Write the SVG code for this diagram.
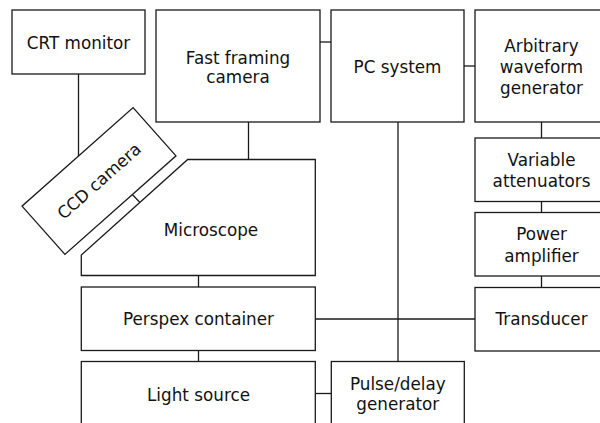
<svg xmlns="http://www.w3.org/2000/svg" width="600" height="423" viewBox="0 0 600 423">
<style>
.box{fill:#fff;stroke:#1a1a1a;stroke-width:1.3}
.ln{fill:none;stroke:#1a1a1a;stroke-width:1.3}
text{font-family:"DejaVu Sans","Liberation Sans",sans-serif;font-size:16.8px;fill:#111;text-anchor:middle}
</style>
<rect width="600" height="423" fill="#fff"/>
<g id="connectors">
<line class="ln" x1="78.5" y1="74" x2="78.5" y2="157"/>
<line class="ln" x1="320" y1="42" x2="331" y2="42"/>
<line class="ln" x1="464" y1="66" x2="475" y2="66"/>
<line class="ln" x1="248.5" y1="122" x2="248.5" y2="159.5"/>
<line class="ln" x1="131.8" y1="194" x2="139.5" y2="202"/>
<line class="ln" x1="198.5" y1="275.5" x2="198.5" y2="287"/>
<line class="ln" x1="198.5" y1="350.5" x2="198.5" y2="361.5"/>
<line class="ln" x1="315" y1="319" x2="475" y2="319"/>
<line class="ln" x1="398" y1="122" x2="398" y2="361.5"/>
<line class="ln" x1="315" y1="393.5" x2="331" y2="393.5"/>
<line class="ln" x1="541.5" y1="122" x2="541.5" y2="138"/>
<line class="ln" x1="541.5" y1="201.5" x2="541.5" y2="212.5"/>
<line class="ln" x1="541.5" y1="276" x2="541.5" y2="287.5"/>
</g>
<g id="crt"><rect class="box" x="12" y="10" width="133" height="64"/><text x="78.5" y="49">CRT monitor</text></g>
<g id="fastcam"><rect class="box" x="156" y="10" width="164" height="112"/><text x="238" y="63.5">Fast framing</text><text x="238" y="83">camera</text></g>
<g id="pc"><rect class="box" x="331" y="10" width="133" height="112"/><text x="397.5" y="73">PC system</text></g>
<g id="awg"><rect class="box" x="475" y="10" width="133" height="112"/><text x="541.5" y="51.7">Arbitrary</text><text x="541.5" y="73">waveform</text><text x="541.5" y="94.3">generator</text></g>
<g id="ccd" transform="translate(99 181) rotate(-41.6)"><rect class="box" x="-74.25" y="-32.3" width="148.5" height="64.6"/><text x="0" y="6">CCD camera</text></g>
<g id="microscope"><polygon class="box" points="187.7,159.5 315.3,159.5 315.3,275.5 81.3,275.5 81.3,255"/><text x="211" y="236">Microscope</text></g>
<g id="varatt"><rect class="box" x="475" y="138" width="133" height="63.5"/><text x="541.5" y="166">Variable</text><text x="541.5" y="187.3">attenuators</text></g>
<g id="poweramp"><rect class="box" x="475" y="212.5" width="133" height="63.5"/><text x="541.5" y="240">Power</text><text x="541.5" y="262">amplifier</text></g>
<g id="perspex"><rect class="box" x="81.3" y="287" width="234" height="63.5"/><text x="198.5" y="325">Perspex container</text></g>
<g id="transducer"><rect class="box" x="475" y="287.5" width="133" height="63.5"/><text x="541.5" y="325">Transducer</text></g>
<g id="light"><rect class="box" x="81.3" y="361.5" width="234" height="80"/><text x="198.5" y="400.5">Light source</text></g>
<g id="pulse"><rect class="box" x="331.3" y="361.5" width="133" height="80"/><text x="397.8" y="390">Pulse/delay</text><text x="397.8" y="410">generator</text></g>
</svg>
